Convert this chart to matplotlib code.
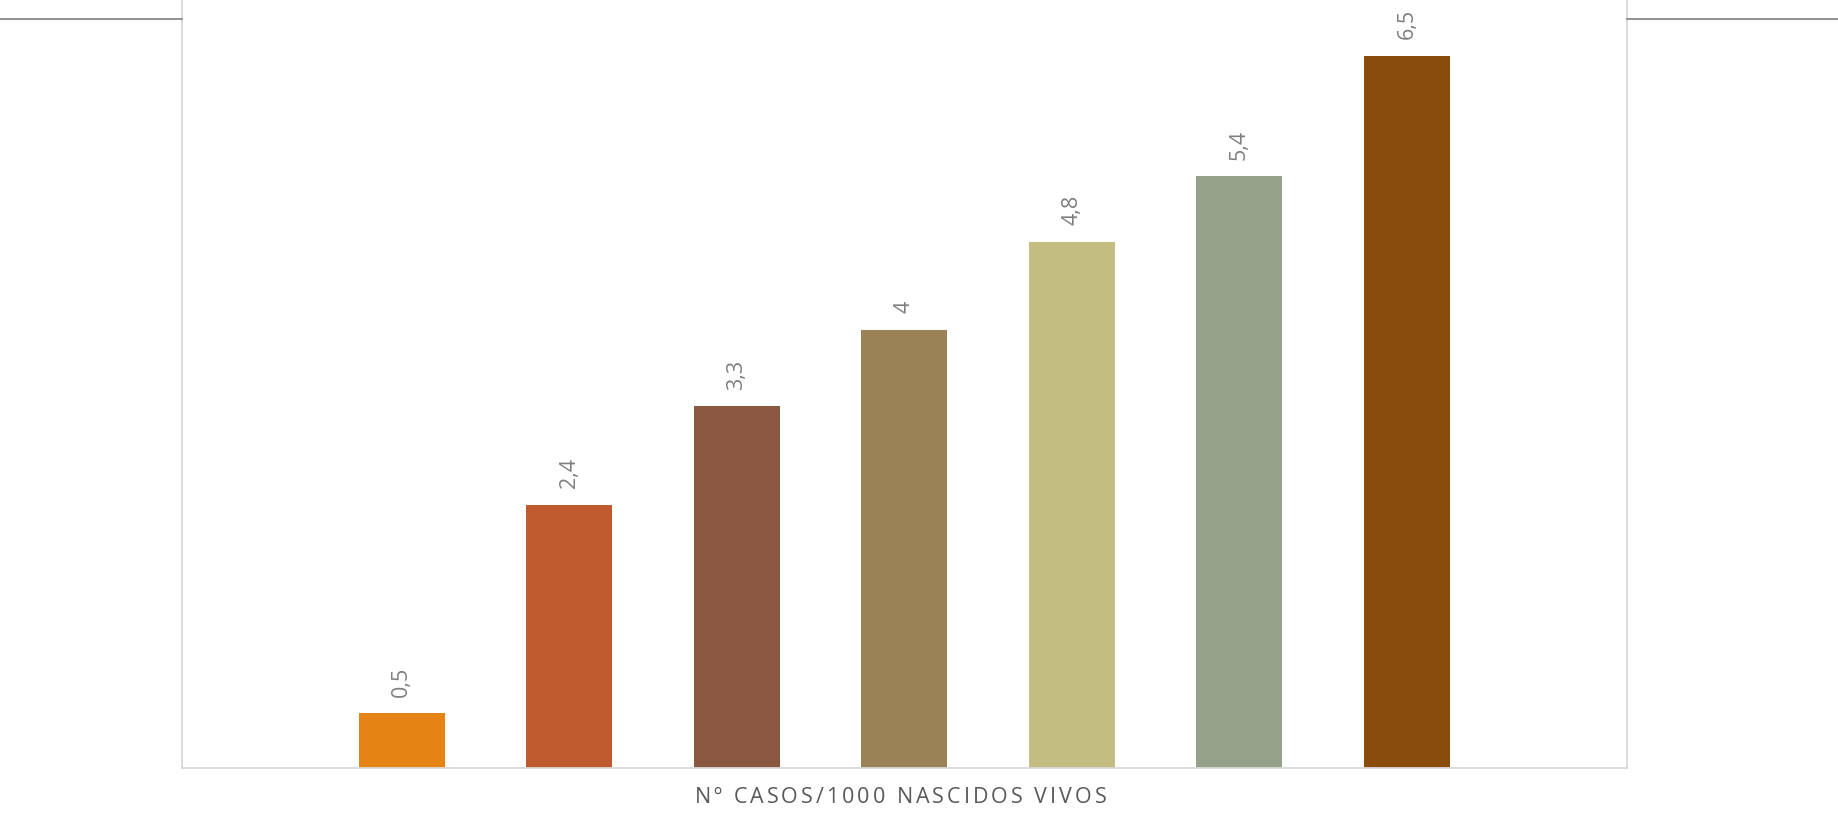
import matplotlib
matplotlib.use("Agg")
import matplotlib.pyplot as plt
from matplotlib.lines import Line2D

categories = ["1", "2", "3", "4", "5", "6", "7"]
values = [0.5, 2.4, 3.3, 4.0, 4.8, 5.4, 6.5]
value_labels = ["0,5", "2,4", "3,3", "4", "4,8", "5,4", "6,5"]
colors = ["#E58314", "#BE5A2E", "#8A5740", "#9B8256", "#C3BD82", "#95A289", "#894C0A"]
x_title = "Nº CASOS/1000 NASCIDOS VIVOS"

W, H = 1838, 814
fig = plt.figure(figsize=(W / 100, H / 100), dpi=100)
left, right, bottom = 181.7 / W, 1627 / W, 46 / H
ax = fig.add_axes([left, bottom, right - left, 1 - bottom])

xs = list(range(len(categories)))
ax.bar(xs, values, width=0.513, color=colors, zorder=2)
ax.set_xlim(-1.314, len(categories) - 1 + 1.314)
ax.set_ylim(0, 7.01)
ax.set_xticks([])
ax.set_yticks([])
for s in ["left", "right", "bottom"]:
    ax.spines[s].set_color("#D9D9D9")
    ax.spines[s].set_linewidth(1.3)
ax.spines["top"].set_visible(False)

fam = ["Open Sans", "DejaVu Sans"]
for x, v, lab in zip(xs, values, value_labels):
    ax.annotate(lab, (x, v), xytext=(0, 12), textcoords="offset points",
                rotation=90, ha="center", va="bottom", color="#7F7F7F",
                fontsize=15.5, family=fam)

# letter-spaced x-axis title
renderer = fig.canvas.get_renderer()
tracking = 3.0  # px between characters
title_fs = 15.5
chars = []
widths = []
for ch in x_title:
    t = fig.text(0, 0, ch, fontsize=title_fs, family=fam, color="#595959",
                 ha="left", va="baseline")
    if ch == " ":
        ref = fig.text(0, 0, "a a", fontsize=title_fs, family=fam)
        ref2 = fig.text(0, 0, "aa", fontsize=title_fs, family=fam)
        w = ref.get_window_extent(renderer).width - ref2.get_window_extent(renderer).width
        ref.remove(); ref2.remove()
    else:
        w = t.get_window_extent(renderer).width
    chars.append(t)
    widths.append(w)
total = sum(widths) + tracking * (len(widths) - 1)
cx = (left + right) / 2 * W - 4
xpos = cx - total / 2
base_y = 11 / H
for t, w in zip(chars, widths):
    t.set_position((xpos / W, base_y))
    xpos += w + tracking

ly = 1 - 19 / H
fig.add_artist(Line2D([0, left], [ly, ly], color="#7F7F7F", lw=1.2, transform=fig.transFigure))
fig.add_artist(Line2D([right, 1], [ly, ly], color="#7F7F7F", lw=1.2, transform=fig.transFigure))

fig.savefig("out.png", dpi=100)
